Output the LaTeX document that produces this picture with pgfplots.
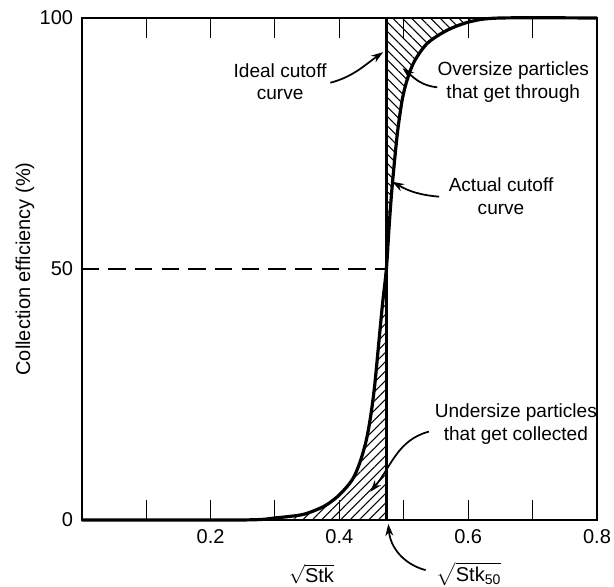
\documentclass[border=0pt]{standalone}
\usepackage{fontspec}
\setmainfont{Liberation Sans}
\usepackage{amsmath}
\usepackage{pgfplots}
\pgfplotsset{compat=1.18}
\usetikzlibrary{patterns.meta, arrows.meta}

\begin{document}
\begin{tikzpicture}
\begin{axis}[
    name=ax,
    scale only axis,
    width=386.5pt, height=376.5pt,
    xmin=0, xmax=0.8, ymin=0, ymax=100,
    axis line style={line width=1.6pt},
    xtick={0.2,0.4,0.6,0.8},
    xticklabels={0.2,0.4,0.6,0.8},
    minor xtick={0.1,0.3,0.5,0.7},
    xtick pos=both, tick align=inside,
    major tick length=15pt, minor tick length=15pt,
    x tick style={line width=0.8pt, black},
    ytick={0,50,100},
    y tick style={draw=none},
    tick label style={font=\fontsize{15}{17}\selectfont},
    /pgf/number format/assume math mode=true,
    xticklabel style={yshift=-4pt},
    yticklabel style={xshift=-3pt},
    xlabel={$\sqrt{\text{Stk}}$},
    xlabel style={at={(axis description cs:0.446,0)}, anchor=center, yshift=-40.5pt, font=\fontsize{15}{17}\selectfont},
    ylabel={Collection efficiency (\%)},
    ylabel style={at={(axis description cs:-0.11,0.5)}, anchor=center, font=\fontsize{15}{17}\selectfont},
    clip=false,
]
% undersize particles that get collected
\addplot[draw=none, pattern={Lines[angle=45,distance=5pt,line width=0.8pt]}] coordinates {
    (0.32,0) (0.32,0.6) (0.34,1) (0.36,1.8) (0.38,3) (0.40,5) (0.42,8) (0.432,11.5)
    (0.442,16) (0.449,21) (0.455,27) (0.461,35) (0.467,43) (0.473,50)
} \closedcycle;
% oversize particles that get through
\addplot[draw=none, pattern={Lines[angle=-45,distance=5pt,line width=0.8pt]}] coordinates {
    (0.473,50) (0.477,58) (0.481,65) (0.486,72) (0.491,78) (0.498,84) (0.506,88)
    (0.517,91.5) (0.537,95) (0.568,97.6) (0.604,99.3) (0.65,100) (0.473,100)
} -- cycle;

% actual cutoff curve
\addplot[line width=2.4pt, smooth, tension=0.5] coordinates {
    (0,0) (0.25,0) (0.30,0.4) (0.34,1) (0.36,1.8) (0.38,3) (0.40,5) (0.42,8)
    (0.432,11.5) (0.442,16) (0.449,21) (0.455,27) (0.461,35) (0.467,43)
    (0.473,50) (0.477,58) (0.481,65) (0.486,72) (0.491,78) (0.498,84)
    (0.506,88) (0.517,91.5) (0.537,95) (0.568,97.6) (0.604,99.3) (0.65,100) (0.8,100)
};
% ideal cutoff
\addplot[line width=2.5pt] coordinates {(0.473,0) (0.473,100)};
\addplot[line width=1pt, dash pattern=on 13pt off 7pt] coordinates {(0,50) (0.473,50)};

% annotations
\begin{scope}[every node/.style={align=center, font=\fontsize{14.3}{17}\selectfont}]
\node at (axis cs:0.308,87.3) {Ideal cutoff\\curve};
\node at (axis cs:0.670,87.3) {Oversize particles\\that get through};
\node at (axis cs:0.651,64.5) {Actual cutoff\\curve};
\node at (axis cs:0.674,19.1) {Undersize particles\\that get collected};
\node at (axis cs:0.601,-10.8) {\fontsize{15}{17}\selectfont$\sqrt{\text{Stk}_{\text{50}}}$};
\end{scope}
\begin{scope}[line width=1.3pt, -{Stealth[length=9pt,width=6pt]}]
\draw (axis cs:0.386,87.1) to[out=15, in=215] (axis cs:0.468,93.2);
\draw (axis cs:0.552,86.2) to[out=175, in=-40] (axis cs:0.498,90);
\draw (axis cs:0.555,64.4) to[out=175, in=-30] (axis cs:0.482,67.4);
\draw (axis cs:0.539,17.6) to[out=195, in=50] (axis cs:0.448,5.6);
\draw (axis cs:0.534,-10) to[out=165, in=-85] (axis cs:0.476,-0.8);
\end{scope}
\end{axis}
\pgfresetboundingbox
\path[use as bounding box] ([shift={(-61.3pt,-50.25pt)}]ax.south west) rectangle ([shift={(12.75pt,13.5pt)}]ax.north east);
\end{tikzpicture}
\end{document}
